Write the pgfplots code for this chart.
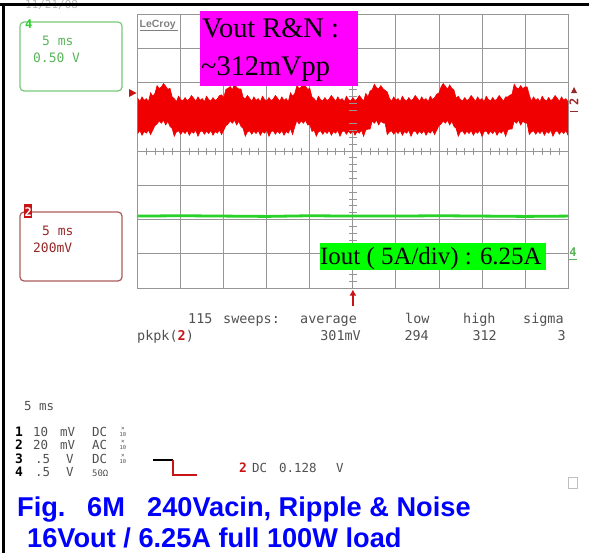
\documentclass[border=0pt]{standalone}
\usepackage{pgfplots}
\pgfplotsset{compat=1.18}
\usepackage{pgfplotstable}
\usepgfplotslibrary{fillbetween}
\usetikzlibrary{arrows.meta}
\usepackage{fontspec}
\setmainfont{Liberation Sans}
\newfontfamily\timesf{Liberation Serif}
\newfontfamily\monof{DejaVu Sans Mono}
\definecolor{gridgray}{RGB}{150,150,150}
\definecolor{scopered}{RGB}{240,0,0}
\definecolor{scopegreen}{RGB}{40,210,40}
\definecolor{boxgreen}{RGB}{120,200,120}
\definecolor{txtgreen}{RGB}{90,180,90}
\definecolor{boxred}{RGB}{170,90,90}
\definecolor{txtred}{RGB}{150,40,40}
\definecolor{darkred}{RGB}{200,20,20}
\definecolor{txtgray}{RGB}{80,80,80}
\definecolor{magentabox}{RGB}{255,0,255}
\definecolor{greenbox}{RGB}{0,255,0}
\definecolor{titleblue}{RGB}{0,0,255}

% Channel 2 (Vout ripple & noise): time in ms, upper and lower envelope in divisions
\pgfplotstableread{
x hi lo
0 1.54 0.51
0.25 1.45 0.60
0.5 1.58 0.46
0.75 1.48 0.57
1.0 1.53 0.52
1.25 1.44 0.61
1.5 1.70 0.48
1.75 1.60 0.61
2.0 1.68 0.74
2.25 1.91 0.79
2.5 1.82 0.88
2.75 1.87 0.81
3.0 1.97 0.90
3.25 1.89 0.76
3.5 1.80 0.87
3.75 1.83 0.72
4.0 1.58 0.66
4.25 1.53 0.43
4.5 1.44 0.56
4.75 1.60 0.59
5.0 1.50 0.49
5.25 1.46 0.58
5.5 1.56 0.51
5.75 1.47 0.60
6.0 1.52 0.46
6.25 1.62 0.57
6.5 1.54 0.52
6.75 1.45 0.61
7.0 1.58 0.43
7.25 1.48 0.56
7.5 1.53 0.59
7.75 1.44 0.49
8.0 1.60 0.58
8.25 1.50 0.51
8.5 1.46 0.60
8.75 1.56 0.46
9.0 1.47 0.57
9.25 1.52 0.52
9.5 1.62 0.61
9.75 1.64 0.48
10.0 1.55 0.61
10.25 1.80 0.74
10.5 1.83 0.79
10.75 1.88 0.88
11.0 1.79 0.81
11.25 1.95 0.90
11.5 1.85 0.76
11.75 1.81 0.87
12.0 1.81 0.72
12.25 1.57 0.66
12.5 1.52 0.43
12.75 1.62 0.56
13.0 1.54 0.59
13.25 1.45 0.49
13.5 1.58 0.58
13.75 1.48 0.51
14.0 1.53 0.60
14.25 1.44 0.46
14.5 1.60 0.57
14.75 1.50 0.52
15.0 1.46 0.61
15.25 1.56 0.43
15.5 1.47 0.56
15.75 1.52 0.59
16.0 1.62 0.49
16.25 1.54 0.58
16.5 1.45 0.51
16.75 1.58 0.60
17.0 1.48 0.46
17.25 1.53 0.57
17.5 1.44 0.52
17.75 1.70 0.66
18.0 1.60 0.48
18.25 1.68 0.71
18.5 1.91 0.89
18.75 1.82 0.79
19.0 1.87 0.88
19.25 1.97 0.81
19.5 1.89 0.90
19.75 1.80 0.76
20.0 1.83 0.77
20.25 1.58 0.57
20.5 1.53 0.61
20.75 1.44 0.43
21.0 1.60 0.56
21.25 1.50 0.59
21.5 1.46 0.49
21.75 1.56 0.58
22.0 1.47 0.51
22.25 1.52 0.60
22.5 1.62 0.46
22.75 1.54 0.57
23.0 1.45 0.52
23.25 1.58 0.61
23.5 1.48 0.43
23.75 1.53 0.56
24.0 1.44 0.59
24.25 1.60 0.49
24.5 1.50 0.58
24.75 1.46 0.51
25.0 1.56 0.60
25.25 1.47 0.46
25.5 1.52 0.57
25.75 1.62 0.52
26.0 1.54 0.61
26.25 1.45 0.43
26.5 1.68 0.61
26.75 1.58 0.64
27.0 1.75 0.64
27.25 1.79 0.88
27.5 1.95 0.81
27.75 1.85 0.90
28.0 1.81 0.76
28.25 1.91 0.87
28.5 1.82 0.82
28.75 1.77 0.81
29.0 1.72 0.48
29.25 1.54 0.56
29.5 1.45 0.59
29.75 1.58 0.49
30.0 1.48 0.58
30.25 1.53 0.51
30.5 1.44 0.60
30.75 1.60 0.46
31.0 1.50 0.57
31.25 1.46 0.52
31.5 1.56 0.61
31.75 1.47 0.43
32.0 1.52 0.56
32.25 1.62 0.59
32.5 1.54 0.49
32.75 1.45 0.58
33.0 1.58 0.51
33.25 1.48 0.60
33.5 1.53 0.46
33.75 1.44 0.57
34.0 1.60 0.52
34.25 1.50 0.61
34.5 1.56 0.48
34.75 1.66 0.61
35.0 1.69 0.74
35.25 1.87 0.79
35.5 1.97 0.88
35.75 1.89 0.81
36.0 1.80 0.90
36.25 1.93 0.76
36.5 1.83 0.87
36.75 1.78 0.72
37.0 1.54 0.66
37.25 1.60 0.43
37.5 1.50 0.56
37.75 1.46 0.59
38.0 1.56 0.49
38.25 1.47 0.58
38.5 1.52 0.51
38.75 1.62 0.60
39.0 1.54 0.46
39.25 1.45 0.57
39.5 1.58 0.52
39.75 1.48 0.61
40.0 1.53 0.43
40.25 1.44 0.56
40.5 1.60 0.59
40.75 1.50 0.49
41.0 1.46 0.58
41.25 1.56 0.51
41.5 1.47 0.60
41.75 1.52 0.46
42.0 1.62 0.57
42.25 1.54 0.52
42.5 1.45 0.61
42.75 1.58 0.43
43.0 1.58 0.61
43.25 1.63 0.64
43.5 1.66 0.64
43.75 1.95 0.88
44.0 1.85 0.81
44.25 1.81 0.90
44.5 1.91 0.76
44.75 1.82 0.87
45.0 1.87 0.82
45.25 1.87 0.81
45.5 1.64 0.48
45.75 1.45 0.56
46.0 1.58 0.59
46.25 1.48 0.49
46.5 1.53 0.58
46.75 1.44 0.51
47.0 1.60 0.60
47.25 1.50 0.46
47.5 1.46 0.57
47.75 1.56 0.52
48.0 1.47 0.61
48.25 1.52 0.43
48.5 1.62 0.56
48.75 1.54 0.59
49.0 1.45 0.49
49.25 1.58 0.58
49.5 1.48 0.51
49.75 1.53 0.60
50.0 1.44 0.46
}\redtrace

\begin{document}
\begin{tikzpicture}
\path (0,0) -- (1bp,-1bp);
\begin{axis}[
  at={(137.7bp,-288bp)}, anchor=south west,
  width=430.3bp, height=274bp, scale only axis,
  xmin=0, xmax=50, ymin=-4, ymax=4,
  xtick={0,5,...,50}, ytick={-4,-3,...,4},
  xticklabels={}, yticklabels={},
  major tick length=0pt,
  grid=major,
  grid style={draw=gridgray, line width=0.8bp},
  axis line style={draw=gridgray, line width=0.8bp},
]
% centre-line graticule ticks
\addplot[only marks, mark=-, mark size=4bp, color=gridgray, mark options={line width=0.8bp}] coordinates {
(25,-3.8)(25,-3.6)(25,-3.4)(25,-3.2)(25,-2.8)(25,-2.6)(25,-2.4)(25,-2.2)
(25,-1.8)(25,-1.6)(25,-1.4)(25,-1.2)(25,-0.8)(25,-0.6)(25,-0.4)(25,-0.2)
(25,0.2)(25,0.4)(25,0.6)(25,0.8)(25,1.2)(25,1.4)(25,1.6)(25,1.8)
(25,2.2)(25,2.4)(25,2.6)(25,2.8)(25,3.2)(25,3.4)(25,3.6)(25,3.8)};
\addplot[only marks, mark=|, mark size=3.5bp, color=gridgray, mark options={line width=0.8bp}] coordinates {
(1,0)(2,0)(3,0)(4,0)(6,0)(7,0)(8,0)(9,0)(11,0)(12,0)(13,0)(14,0)
(16,0)(17,0)(18,0)(19,0)(21,0)(22,0)(23,0)(24,0)(26,0)(27,0)(28,0)(29,0)
(31,0)(32,0)(33,0)(34,0)(36,0)(37,0)(38,0)(39,0)(41,0)(42,0)(43,0)(44,0)
(46,0)(47,0)(48,0)(49,0)};
% channel 2 trace
\addplot[name path=hi, draw=scopered, line width=0.6bp] table[x=x,y=hi]{\redtrace};
\addplot[name path=lo, draw=scopered, line width=0.6bp] table[x=x,y=lo]{\redtrace};
\addplot[fill=scopered, draw=none] fill between[of=hi and lo];
% channel 4 trace
\addplot[scopegreen, line width=2.8bp] coordinates {
(0,-1.90)(5,-1.89)(10,-1.90)(15,-1.91)(20,-1.89)(25,-1.90)(30,-1.90)(35,-1.89)(40,-1.90)(45,-1.91)(50,-1.90)};
\end{axis}
\useasboundingbox (0,0) rectangle (589bp,-553bp);

\begin{scope}[x=1bp, y=-1bp, every node/.append style={inner sep=0pt}]
% outer frame
\node[anchor=base west, font=\monof\fontsize{11}{11}\selectfont, text=gray!55] at (25,8) {11/21/08};
\draw[black, line width=3bp] (0,4.5) -- (589,4.5);
\draw[black, line width=2.5bp] (3.5,3) -- (3.5,553);

% channel 4 box
\draw[boxgreen, line width=1.2bp, rounded corners=4bp] (20,22) rectangle (122,91);
\node[anchor=base west, font=\monof\bfseries\fontsize{12}{12}\selectfont, text=scopegreen] at (25,28) {4};
\node[anchor=base west, font=\monof\fontsize{13}{13}\selectfont, text=txtgreen] at (42,45) {5 ms};
\node[anchor=base west, font=\monof\fontsize{13}{13}\selectfont, text=txtgreen] at (33,62) {0.50 V};

% channel 2 box
\draw[boxred, line width=1.2bp, rounded corners=4bp] (20,212) rectangle (122,281);
\fill[darkred] (24,204) rectangle (32,218);
\node[anchor=base west, font=\monof\bfseries\fontsize{12}{12}\selectfont, text=white] at (24.5,216) {2};
\node[anchor=base west, font=\monof\fontsize{13}{13}\selectfont, text=txtred] at (42,235) {5 ms};
\node[anchor=base west, font=\monof\fontsize{13}{13}\selectfont, text=txtred] at (33,252) {200mV};

% LeCroy logo
\node[anchor=base west, font=\bfseries\fontsize{10.5}{10.5}\selectfont, text=gray] at (139.5,27) {LeCroy};
\draw[gray, line width=0.8bp] (139.5,30.5) -- (178,30.5);

% trace markers
\fill[darkred] (129,89) -- (136.5,93) -- (129,97) -- cycle;
\node[rotate=90, font=\monof\bfseries\fontsize{12}{12}\selectfont, text=txtred] at (574,102) {2};
\fill[txtred] (571,93) -- (574,87) -- (577,93) -- cycle;
\draw[txtred, line width=1bp] (570,111) -- (578,111);
\node[anchor=base, font=\monof\bfseries\fontsize{12}{12}\selectfont, text=txtgreen] at (573,256) {4};
\draw[txtgreen, line width=1bp] (569,259.5) -- (577,259.5);

% annotation boxes
\fill[magentabox] (200,11) rectangle (358,86);
\node[anchor=base west, font=\timesf\fontsize{28.5}{28.5}\selectfont] at (202,37) {Vout R\&N :};
\node[anchor=base west, font=\timesf\fontsize{28.5}{28.5}\selectfont] at (201,75) {\textasciitilde312mVpp};
\fill[greenbox] (320,243) rectangle (546,270);
\node[anchor=base west, font=\timesf\fontsize{25}{25}\selectfont] at (320,264) {Iout ( 5A/div) : 6.25A};

% trigger arrow
\draw[darkred, line width=2.5bp, -{Latex[length=6bp,width=7bp]}] (352.9,306) -- (352.9,289.5);

% measurement readout
\begin{scope}[every node/.append style={font=\monof\fontsize{13.5}{13.5}\selectfont, text=txtgray}]
\node[anchor=base west] at (188,323) {115};
\node[anchor=base west] at (223,323) {sweeps:};
\node[anchor=base west] at (300,323) {average};
\node[anchor=base west] at (405,323) {low};
\node[anchor=base west] at (463,323) {high};
\node[anchor=base west] at (523,323) {sigma};
\node[anchor=base west] at (137,340) {pkpk(\textcolor{darkred}{\bfseries 2})};
\node[anchor=base east] at (361,340) {301mV};
\node[anchor=base east] at (429,340) {294};
\node[anchor=base east] at (497,340) {312};
\node[anchor=base east] at (566,340) {3};
\end{scope}

% channel settings
\begin{scope}[every node/.append style={font=\monof\fontsize{12.5}{12.5}\selectfont, text=txtgray}]
\node[anchor=base west] at (24,410) {5 ms};
\node[anchor=base west, text=black, font=\monof\bfseries\fontsize{13}{13}\selectfont] at (15,436) {1};
\node[anchor=base west, text=black, font=\monof\bfseries\fontsize{13}{13}\selectfont] at (15,449) {2};
\node[anchor=base west, text=black, font=\monof\bfseries\fontsize{13}{13}\selectfont] at (15,463) {3};
\node[anchor=base west, text=black, font=\monof\bfseries\fontsize{13}{13}\selectfont] at (15,476) {4};
\node[anchor=base west] at (33,436) {10};
\node[anchor=base west] at (60,436) {mV};
\node[anchor=base west] at (92,436) {DC};
\node[anchor=base west] at (33,449) {20};
\node[anchor=base west] at (60,449) {mV};
\node[anchor=base west] at (92,449) {AC};
\node[anchor=base west] at (35,463) {.5};
\node[anchor=base west] at (66,463) {V};
\node[anchor=base west] at (92,463) {DC};
\node[anchor=base west] at (35,476) {.5};
\node[anchor=base west] at (66,476) {V};
\node[anchor=base west, font=\monof\fontsize{9}{9}\selectfont] at (92,476) {50Ω};
\node[anchor=base, font=\monof\fontsize{6}{6}\selectfont] at (123,430.5) {×};
\node[anchor=base, font=\monof\fontsize{5.5}{5.5}\selectfont] at (123,436.5) {10};
\node[anchor=base, font=\monof\fontsize{6}{6}\selectfont] at (123,443.5) {×};
\node[anchor=base, font=\monof\fontsize{5.5}{5.5}\selectfont] at (123,449.5) {10};
\node[anchor=base, font=\monof\fontsize{6}{6}\selectfont] at (123,457.5) {×};
\node[anchor=base, font=\monof\fontsize{5.5}{5.5}\selectfont] at (123,463.5) {10};
% trigger setup
\node[anchor=base west, text=darkred, font=\monof\bfseries\fontsize{13}{13}\selectfont] at (239,472) {2};
\node[anchor=base west] at (252,472) {DC};
\node[anchor=base west] at (279,472) {0.128};
\node[anchor=base west] at (336,472) {V};
\end{scope}
\draw[black, line width=1.2bp] (153,460) -- (173,460);
\draw[darkred, line width=1.5bp] (173,460) -- (173,475) -- (197,475);
\draw[gray!50, line width=0.8bp] (568,477) rectangle (577,488);

% caption
\begin{scope}[every node/.append style={font=\bfseries\fontsize{27.3}{27.3}\selectfont, text=titleblue, anchor=base west}]
\node at (17,516) {Fig.};
\node at (87,516) {6M};
\node at (147,516) {240Vacin, Ripple \& Noise};
\node at (27,547) {16Vout / 6.25A full 100W load};
\end{scope}
\end{scope}
\end{tikzpicture}
\end{document}
